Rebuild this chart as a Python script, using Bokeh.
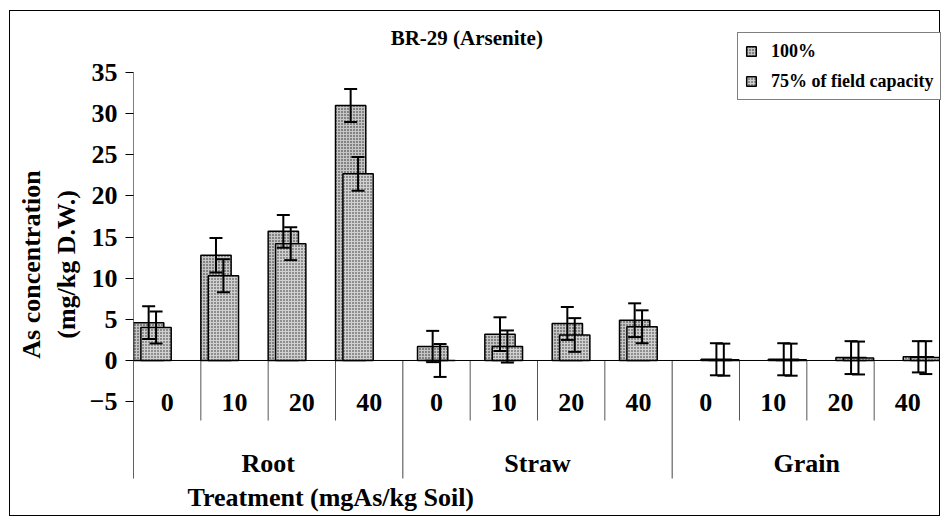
from bokeh.plotting import figure
from bokeh.models import (Range1d, FixedTicker, ColumnDataSource, Whisker, TeeHead,
                          Span, Legend, LegendItem)
from bokeh.core.properties import value
from bokeh.embed import file_html
from bokeh.resources import INLINE

# ---------------- data ----------------
GROUPS = ["Root", "Straw", "Grain"]
TREATMENTS = ["0", "10", "20", "40"]
SERIES = ["100%", "75% of field capacity"]
V100 = [4.6, 12.8, 15.7, 31.0, 1.7, 3.2, 4.5, 4.9, 0.15, 0.15, 0.35, 0.45]
E100 = [2.0, 2.1, 2.0, 2.0, 1.9, 2.05, 2.0, 2.05, 1.95, 1.95, 2.0, 1.9]
V75 = [4.0, 10.3, 14.2, 22.7, 0.0, 1.7, 3.1, 4.1, 0.1, 0.1, 0.3, 0.35]
E75 = [1.95, 2.0, 2.0, 2.05, 2.0, 1.95, 2.05, 2.0, 1.95, 1.95, 2.0, 2.0]
YTICKS = [-5, 0, 5, 10, 15, 20, 25, 30, 35]
TITLE = "BR-29 (Arsenite)"
YLABEL = "As concentration\n(mg/kg D.W.)"
XLABEL = "Treatment (mgAs/kg Soil)"

# ---------------- layout / style constants ----------------
FONT = "Liberation Serif"
GROUP_SHIFT = [0.0, 0.218, 0.432]   # bar offset inside each group's cells
BAR_W = 0.45
FRONT_OFF = 0.11
N = len(GROUPS) * len(TREATMENTS)
SUB_Y, GRP_Y, XT_Y, TT_Y = -5.15, -12.5, -16.6, 39.2

groups_idx = [i // len(TREATMENTS) for i in range(N)]
x100 = [i + GROUP_SHIFT[g] + BAR_W / 2 for i, g in zip(range(N), groups_idx)]
x75 = [x + FRONT_OFF for x in x100]

p = figure(width=931, height=506, output_backend="svg", toolbar_location=None,
           x_range=Range1d(0, N), y_range=Range1d(-19.09, 42.43),
           min_border_left=123, min_border_right=0, min_border_top=0,
           min_border_bottom=0)
p.styles = {"border": "1px solid black", "margin-left": "9px", "margin-top": "10px"}
p.outline_line_color = None
p.grid.visible = False
p.xaxis.visible = False
p.background_fill_color = "white"
p.border_fill_color = "white"

yax = p.yaxis[0]
yax.ticker = FixedTicker(ticks=YTICKS)
yax.axis_line_color = None
yax.major_tick_out = 8
yax.major_tick_in = 0
yax.minor_tick_line_color = None
yax.major_tick_line_color = "black"
yax.major_tick_line_width = 1
yax.major_label_standoff = 8
yax.major_label_text_font = FONT
yax.major_label_text_font_style = "bold"
yax.major_label_text_font_size = "26px"
yax.major_label_text_color = "black"
yax.axis_label = YLABEL
yax.axis_label_text_font = FONT
yax.axis_label_text_font_style = "bold"
yax.axis_label_text_font_size = "26px"
yax.axis_label_text_color = "black"
yax.axis_label_standoff = 6

# axis line (left) and zero line
p.segment(x0=[0], y0=[YTICKS[-1]], x1=[0], y1=[-14.35], line_color="black", line_width=1)
p.add_layout(Span(location=0, dimension="width", line_color="black", line_width=1))

# category dividers
minor_x = [i for i in range(1, N) if i % len(TREATMENTS) != 0]
major_x = [i for i in range(0, N + 1) if i % len(TREATMENTS) == 0]
p.segment(x0=minor_x, y0=[0] * len(minor_x), x1=minor_x, y1=[-7.3] * len(minor_x),
          line_color="#555555", line_width=1)
p.segment(x0=major_x, y0=[0] * len(major_x), x1=major_x, y1=[-14.35] * len(major_x),
          line_color="#444444", line_width=1)

# bars
src100 = ColumnDataSource(dict(x=x100, top=V100, upper=[v + e for v, e in zip(V100, E100)],
                               lower=[v - e for v, e in zip(V100, E100)]))
src75 = ColumnDataSource(dict(x=x75, top=V75, upper=[v + e for v, e in zip(V75, E75)],
                              lower=[v - e for v, e in zip(V75, E75)]))

r100 = p.vbar(x="x", top="top", bottom=0, width=BAR_W, source=src100,
              fill_color="#c6c6c6", hatch_pattern=".", hatch_scale=3,
              hatch_color="#1a1a1a", hatch_weight=1,
              line_color="black", line_width=1.5)
r75 = p.vbar(x="x", top="top", bottom=0, width=BAR_W, source=src75,
             fill_color="#8e8e8e", hatch_pattern="+", hatch_scale=3,
             hatch_color="#d0d0d0", hatch_weight=1,
             line_color="black", line_width=1.5)

for src in (src100, src75):
    w = Whisker(source=src, base="x", upper="upper", lower="lower", dimension="height",
                line_color="black", line_width=2, level="overlay",
                upper_head=TeeHead(size=13, line_width=2, line_color="black"),
                lower_head=TeeHead(size=13, line_width=2, line_color="black"))
    p.add_layout(w)

# category labels
sub_x = [i + 0.5 for i in range(N)]
sub_t = [TREATMENTS[i % len(TREATMENTS)] for i in range(N)]
p.text(x=sub_x, y=[SUB_Y] * N, text=sub_t, text_align="center", text_baseline="alphabetic",
       text_font=value(FONT), text_font_style="bold", text_font_size="26px", text_color="black")
grp_x = [g * len(TREATMENTS) + len(TREATMENTS) / 2 for g in range(len(GROUPS))]
p.text(x=grp_x, y=[GRP_Y] * len(GROUPS), text=GROUPS, text_align="center",
       text_baseline="alphabetic", text_font=value(FONT), text_font_style="bold",
       text_font_size="26px", text_color="black")

# x axis title and chart title
p.text(x=[2.93], y=[XT_Y], text=[XLABEL], text_align="center", text_baseline="alphabetic",
       text_font=value(FONT), text_font_style="bold", text_font_size="26px", text_color="black")
p.text(x=[4.95], y=[TT_Y], text=[TITLE], text_align="center", text_baseline="alphabetic",
       text_font=value(FONT), text_font_style="bold", text_font_size="21px", text_color="black")

legend = Legend(items=[LegendItem(label=SERIES[0], renderers=[r100]),
                       LegendItem(label=SERIES[1], renderers=[r75])],
                location=(604, 417), orientation="vertical",
                label_text_font=FONT, label_text_font_style="bold",
                label_text_font_size="18px", label_text_color="black",
                glyph_width=12, glyph_height=12, label_height=22, label_standoff=14,
                spacing=8, padding=7, margin=0,
                border_line_color="black", border_line_width=1,
                background_fill_color="white", background_fill_alpha=1.0)
p.add_layout(legend, "center")

open("out.html", "w").write(file_html(p, INLINE))
